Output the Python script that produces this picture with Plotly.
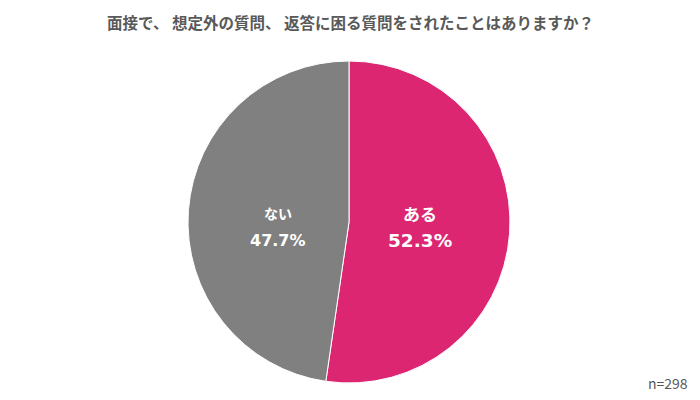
import math
import plotly.graph_objects as go

labels = ["ある", "ない"]
values = [52.3, 47.7]
colors = ["#DC2672", "#808080"]
label_sizes = [17, 14]
pct_sizes = [18.5, 16]
title_text = "面接で、 想定外の質問、 返答に困る質問をされたことはありますか？"
n_text = "n=298"

W, H = 700, 400
ML, MR, MT, MB = 0, 2, 61, 17
PW, PH = W - ML - MR, H - MT - MB
R = min(PW, PH) / 2
CX, CY = ML + PW / 2, MT + PH / 2

fig = go.Figure(go.Pie(
    labels=labels, values=values, sort=False, direction="clockwise", rotation=0,
    marker=dict(colors=colors, line=dict(color="white", width=1)),
    textinfo="none", hoverinfo="skip", showlegend=False,
))

def px2paper(x, y):
    return (x - ML) / PW, 1 - (y - MT) / PH

annotations = []
total = sum(values)
cum = 0
for lab, v, ls, ps in zip(labels, values, label_sizes, pct_sizes):
    mid = (cum + v / 2) / total * 2 * math.pi
    cum += v
    x = CX + 0.44 * R * math.sin(mid)
    y = CY + 5
    ax, ay = px2paper(x, y)
    annotations.append(dict(text=f"<b>{lab}</b>", x=ax, y=ay, xref="paper", yref="paper",
                            showarrow=False, yshift=14, yanchor="middle",
                            font=dict(size=ls, color="white", family="Noto Sans CJK JP")))
    annotations.append(dict(text=f"<b>{v:.1f}%</b>", x=ax, y=ay, xref="paper", yref="paper",
                            showarrow=False, yshift=-13, yanchor="middle",
                            font=dict(size=ps, color="white", family="DejaVu Sans")))

tx, ty = px2paper(W / 2, 22)
annotations.append(dict(text=f"<b>{title_text}</b>", x=tx, y=ty, xref="paper", yref="paper",
                        showarrow=False, yanchor="middle",
                        font=dict(size=15.5, color="#595959", family="Noto Sans CJK JP")))
nx, ny = px2paper(690, 383)
annotations.append(dict(text=n_text, x=nx, y=ny, xref="paper", yref="paper",
                        showarrow=False, xanchor="right", yanchor="middle",
                        font=dict(size=14, color="#595959", family="Noto Sans CJK JP")))

fig.update_layout(
    width=W, height=H,
    margin=dict(l=ML, r=MR, t=MT, b=MB),
    paper_bgcolor="white", plot_bgcolor="white",
    font=dict(family="Noto Sans CJK JP", color="#595959"),
    annotations=annotations,
)

fig.write_html("out.html")
